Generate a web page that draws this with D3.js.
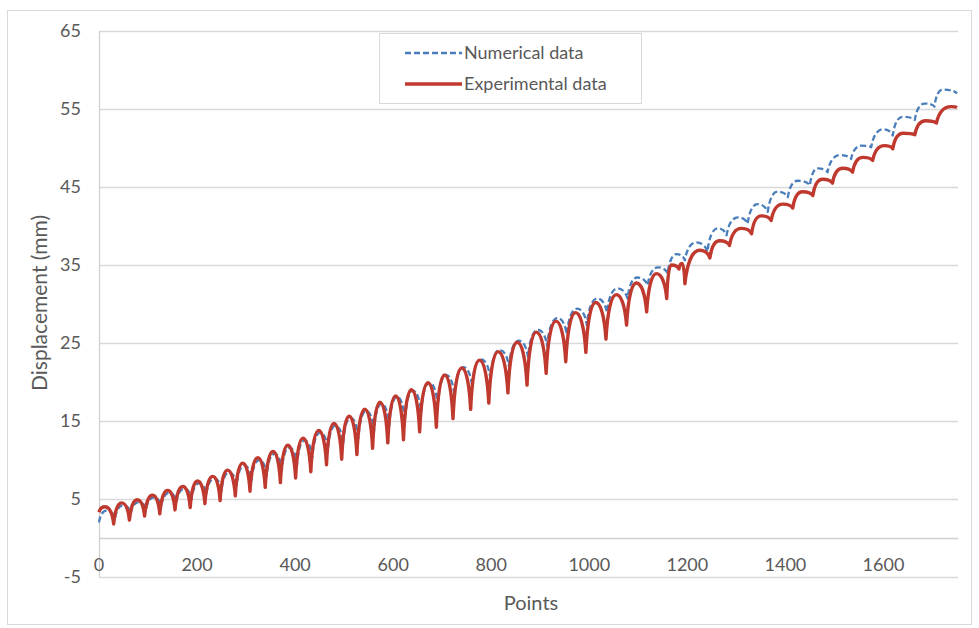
<!DOCTYPE html>
<html>
<head>
<meta charset="utf-8">
<script src="https://cdn.jsdelivr.net/npm/d3@7"></script>
<style>
  body { margin: 0; background: #fff; }
  text { font-family: Lato, "Open Sans", sans-serif; fill: #595959; }
</style>
</head>
<body>
<div class="chart"></div>
<script>
// key points: cusps (troughs) and arch tops (peaks)
// arch i runs trough[i] -> peak[i] -> trough[i+1]
const expTroughX = [0, 30, 62, 93, 124, 155, 186, 216, 247, 278, 308, 339, 370, 401, 432, 464, 495, 526, 558, 589, 621, 654, 688, 722, 758, 795, 834, 873, 912, 952, 993, 1034, 1076, 1117, 1158, 1183, 1195, 1246, 1286, 1331, 1371, 1415, 1456, 1496, 1537, 1578, 1619, 1664, 1708, 1750];
const expTroughY = [3.3, 1.8, 2.3, 2.8, 3.1, 3.6, 3.9, 4.4, 4.8, 5.4, 6.0, 6.5, 7.1, 7.7, 8.5, 9.4, 10.1, 10.7, 11.5, 12.2, 12.6, 13.6, 14.2, 15.3, 16.5, 17.3, 18.6, 19.6, 21.1, 22.6, 23.8, 25.5, 27.3, 29.0, 30.7, 34.5, 32.6, 35.9, 37.5, 39.0, 40.7, 42.3, 43.9, 45.5, 46.9, 48.4, 49.9, 51.7, 53.2, 55.2];
const expPeakX = [12, 46, 78, 109, 140, 171, 201, 232, 262, 293, 324, 355, 385, 416, 448, 479, 510, 542, 573, 605, 637, 671, 705, 740, 776, 814, 853, 892, 932, 972, 1013, 1055, 1096, 1137, 1167, 1189, 1225, 1266, 1310, 1351, 1395, 1435, 1476, 1517, 1558, 1602, 1640, 1686, 1738];
const expPeakY = [4.0, 4.5, 4.9, 5.5, 6.1, 6.6, 7.3, 7.9, 8.7, 9.6, 10.3, 11.1, 11.9, 12.8, 13.8, 14.7, 15.6, 16.5, 17.4, 18.2, 19.0, 19.9, 20.9, 21.8, 22.8, 23.9, 25.1, 26.4, 27.8, 28.9, 30.2, 31.2, 32.7, 33.9, 35.0, 35.2, 36.9, 38.1, 39.7, 41.3, 42.8, 44.4, 46.0, 47.4, 48.8, 50.3, 51.9, 53.5, 55.3];

const numTroughX = [0, 33, 65, 96, 127, 158, 189, 219, 250, 281, 311, 342, 373, 404, 435, 467, 498, 529, 561, 592, 624, 657, 691, 725, 761, 798, 836, 875, 914, 954, 995, 1036, 1078, 1119, 1160, 1195, 1241, 1280, 1323, 1364, 1405, 1450, 1486, 1534, 1575, 1619, 1664, 1704, 1750];
const numTroughY = [2.0, 2.6, 3.2, 3.7, 4.1, 4.7, 5.0, 5.6, 6.1, 6.8, 7.4, 8.0, 8.7, 9.4, 10.3, 11.3, 12.1, 12.8, 13.7, 14.4, 15.0, 16.1, 16.9, 18.2, 19.5, 20.5, 22.0, 23.2, 24.6, 26.1, 27.3, 28.9, 30.7, 32.4, 33.9, 35.6, 36.7, 38.8, 40.3, 41.8, 43.7, 45.2, 46.9, 48.6, 50.1, 51.6, 53.6, 55.3, 57.0];
const numPeakX = [15, 49, 81, 112, 143, 174, 204, 235, 265, 296, 327, 358, 388, 419, 451, 482, 513, 545, 576, 608, 640, 674, 708, 743, 779, 817, 856, 895, 935, 975, 1016, 1057, 1098, 1140, 1178, 1218, 1262, 1303, 1343, 1384, 1425, 1466, 1511, 1555, 1599, 1639, 1684, 1721];
const numPeakY = [3.5, 4.2, 4.6, 5.2, 5.8, 6.3, 7.0, 7.6, 8.4, 9.3, 10.0, 10.8, 11.6, 12.5, 13.5, 14.4, 15.4, 16.3, 17.2, 18.1, 18.9, 19.9, 20.9, 21.9, 22.9, 24.1, 25.3, 26.7, 28.2, 29.4, 30.7, 32.0, 33.4, 34.7, 36.4, 37.9, 39.7, 41.1, 42.8, 44.4, 45.8, 47.4, 49.1, 50.3, 52.4, 54.0, 55.7, 57.5];

const yTicks = [-5, 5, 15, 25, 35, 45, 55, 65];
const xTicks = [0, 200, 400, 600, 800, 1000, 1200, 1400, 1600];

const width = 979;
const height = 628;
const plotLeft = 99, plotRight = 958, plotTop = 31, plotBottom = 577;

const svg = d3.select('.chart')
    .append('svg')
    .attr('width', width)
    .attr('height', height);

svg.append('rect')
    .attr('width', width).attr('height', height)
    .attr('fill', '#fff');

// outer chart frame
svg.append('rect')
    .attr('x', 7.5).attr('y', 10.5)
    .attr('width', 964).attr('height', 614)
    .attr('fill', 'none')
    .attr('stroke', '#d9d9d9');

const x = d3.scaleLinear().domain([0, 1752]).range([plotLeft, plotRight]);
const y = d3.scaleLinear().domain([-5, 65]).range([plotBottom, plotTop]);

//gridlines
svg.selectAll('.grid')
    .data(yTicks)
    .enter()
    .append('line')
    .attr('x1', plotLeft).attr('x2', plotRight)
    .attr('y1', d => Math.round(y(d)) + 0.5)
    .attr('y2', d => Math.round(y(d)) + 0.5)
    .attr('stroke', '#d9d9d9')
    .attr('stroke-width', 1.3);

// axis lines (horizontal axis crosses at 0)
svg.append('line')
    .attr('x1', plotLeft).attr('x2', plotRight)
    .attr('y1', Math.round(y(0)) + 0.5).attr('y2', Math.round(y(0)) + 0.5)
    .attr('stroke', '#d0d0d0').attr('stroke-width', 1.3);
svg.append('line')
    .attr('x1', plotLeft + 0.5).attr('x2', plotLeft + 0.5)
    .attr('y1', plotTop).attr('y2', plotBottom)
    .attr('stroke', '#d0d0d0').attr('stroke-width', 1.3);

// tick labels
svg.selectAll('.ylab')
    .data(yTicks)
    .enter()
    .append('text')
    .attr('x', 81)
    .attr('y', d => y(d))
    .attr('dy', '0.35em')
    .attr('text-anchor', 'end')
    .attr('font-size', 18)
    .text(d => d);

svg.selectAll('.xlab')
    .data(xTicks)
    .enter()
    .append('text')
    .attr('x', d => x(d))
    .attr('y', 571)
    .attr('text-anchor', 'middle')
    .attr('font-size', 18)
    .text(d => d);

svg.append('text')
    .attr('x', 531).attr('y', 610)
    .attr('text-anchor', 'middle')
    .attr('font-size', 20)
    .text('Points');

svg.append('text')
    .attr('transform', 'translate(47,303) rotate(-90)')
    .attr('text-anchor', 'middle')
    .attr('font-size', 21)
    .text('Displacement (mm)');

// one continuous path of arches: steep out of each cusp, flat over the top
function archPath(tx, ty, px, py) {
    const p = d3.path();
    p.moveTo(x(tx[0]), y(ty[0]));
    for (let i = 0; i < px.length; i++) {
        const x0 = x(tx[i]), y0 = y(ty[i]);
        const x1 = x(px[i]), y1 = y(py[i]);
        const x2 = x(tx[i + 1]), y2 = y(ty[i + 1]);
        p.bezierCurveTo(x0 + 0.15 * (x1 - x0), y0 + 0.6 * (y1 - y0), x1 - 0.5 * (x1 - x0), y1, x1, y1);
        p.bezierCurveTo(x1 + 0.5 * (x2 - x1), y1, x2 - 0.15 * (x2 - x1), y2 + 0.6 * (y1 - y2), x2, y2);
    }
    return p.toString();
}

svg.append('path')
    .attr('d', archPath(numTroughX, numTroughY, numPeakX, numPeakY))
    .attr('fill', 'none')
    .attr('stroke', '#4a7ebb')
    .attr('stroke-width', 2.3)
    .attr('stroke-dasharray', '6,3')
    .attr('stroke-linejoin', 'round');

svg.append('path')
    .attr('d', archPath(expTroughX, expTroughY, expPeakX, expPeakY))
    .attr('fill', 'none')
    .attr('stroke', '#c0392f')
    .attr('stroke-width', 3.4)
    .attr('stroke-linejoin', 'round');

// legend
const legend = svg.append('g');
legend.append('rect')
    .attr('x', 379.5).attr('y', 33.5)
    .attr('width', 262).attr('height', 70)
    .attr('fill', '#fff')
    .attr('stroke', '#d9d9d9');
legend.append('line')
    .attr('x1', 405).attr('x2', 462).attr('y1', 53).attr('y2', 53)
    .attr('stroke', '#4a7ebb').attr('stroke-width', 2.3)
    .attr('stroke-dasharray', '6,3');
legend.append('line')
    .attr('x1', 405).attr('x2', 462).attr('y1', 84).attr('y2', 84)
    .attr('stroke', '#c0392f').attr('stroke-width', 3.4);
legend.append('text')
    .attr('x', 464).attr('y', 53).attr('dy', '0.35em')
    .attr('font-size', 18)
    .text('Numerical data');
legend.append('text')
    .attr('x', 464).attr('y', 84).attr('dy', '0.35em')
    .attr('font-size', 18)
    .text('Experimental data');
</script>
</body>
</html>
